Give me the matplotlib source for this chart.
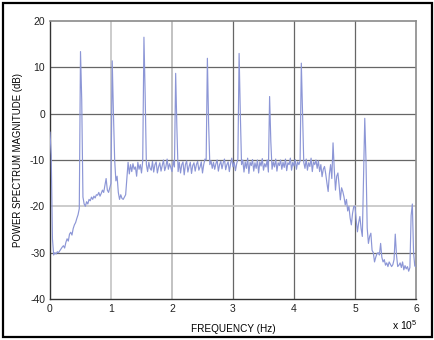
import numpy as np
import matplotlib
matplotlib.use('Agg')
import matplotlib.pyplot as plt
from matplotlib.patches import Rectangle

plt.rcParams['font.family'] = ['Liberation Sans', 'DejaVu Sans']
plt.rcParams['mathtext.default'] = 'regular'

# spectrum bins, 2 kHz apart, 0 .. 600 kHz
freq_hz = np.arange(301) * 2000.0
mag_db = [
    -4, -9, -27, -30.5, -30, -30.3, -29.8, -30, -29.6, -29.2,
    -28.8, -28.5, -29, -27.8, -27, -27.5, -26, -25.6, -26.2, -24.8,
    -24, -23.5, -22.6, -21.8, -20.5, 13.4, 3, -18, -19.5, -20,
    -19, -19.5, -18.5, -18.8, -18, -18.5, -17.8, -18.2, -17.5, -17.6,
    -17, -17.8, -17.2, -16.5, -17, -15.5, -14, -16.5, -17, -16,
    -15, 11.4, 0, -10, -14.5, -13.5, -17, -18.5, -17.5, -18.3,
    -18.5, -18, -17.5, -14, -10.5, -13, -11, -12.5, -10.8, -12,
    -11.5, -13.5, -10.5, -12, -11, -12.8, -10.2, 16.5, 4, -11,
    -12.5, -10.5, -11.8, -12.2, -10.3, -12.6, -11, -10.4, -12.8, -11.5,
    -10.6, -12.4, -11.2, -10, -12.3, -11.4, -9.8, -12, -10.8, -11.6,
    -12.5, -10.2, -11.5, 8.7, -3, -12.5, -10.5, -12.8, -11, -10.4,
    -13.2, -11, -10.2, -12.6, -11.4, -10.5, -12.9, -11.2, -10.6, -12.4,
    -11, -10.3, -12.2, -11.5, -10.4, -12.8, -11, -9.8, -10, 11.95,
    -2, -11, -10.2, -11.8, -10.5, -12, -10.8, -10, -12.4, -11,
    -10.3, -11.9, -10.6, -9.8, -12.1, -11, -10.4, -12.5, -10.8, -9.6,
    -11.5, -10.5, -12.3, -10.8, -9.8, 13.0, 0, -11, -10, -12.6,
    -10.4, -11.8, -9.6, -12.9, -10.5, -11.2, -9.9, -12.4, -10.6, -11.8,
    -10, -12.8, -10.4, -11.3, -9.7, -12.2, -10.8, -11.5, -10, -12.6,
    3.7, -6, -12, -10.4, -11.5, -9.8, -12.4, -10.6, -11.2, -10,
    -12, -10.5, -11.6, -9.8, -12.3, -10.6, -11, -9.6, -12.2, -10.5,
    -11.3, -9.9, -12, -10.4, -11, -10.2, 10.9, 0, -10.5, -11.8,
    -9.8, -12.2, -10.6, -11.4, -9.6, -12.5, -10.4, -11, -10, -11.8,
    -10.2, -12.5, -11, -13.6, -12, -11.4, -13, -15, -16.8, -13,
    -11, -14, -6.3, -12, -16.5, -13.5, -12.8, -15.5, -18.6, -16,
    -16.8, -18, -19.7, -18.5, -21, -20, -22.5, -24, -21.5, -20,
    -20, -23, -25.5, -23.5, -22.2, -24.8, -26.5, -14, -1.0, -10,
    -24.7, -28, -26.5, -25.8, -29.5, -30, -32, -31, -30.2, -30,
    -30.5, -28, -31, -32, -31.5, -32.7, -32.2, -33, -32, -32.5,
    -33, -32.6, -31.5, -26, -30.5, -33, -32.7, -32.2, -33.2, -32,
    -33.7, -32.8, -33.5, -33, -34, -33.2, -22, -19.5, -30, -32.9,
    -33,
]

x_ticks = [0, 1, 2, 3, 4, 5, 6]
y_ticks = [-40, -30, -20, -10, 0, 10, 20]

fig = plt.figure(figsize=(4.35, 3.4), dpi=100)
fig.patches.append(Rectangle((3 / 435, 3 / 340), 429 / 435, 334 / 340,
                             transform=fig.transFigure, fill=False,
                             edgecolor='black', linewidth=1.6))

ax = fig.add_axes([50 / 435, 41 / 340, 366 / 435, 278 / 340])

# grid lines as they look in the original (some lighter than others)
light = '#c4c4c4'
dark = '#666666'
vcol = {1: light, 2: '#b8b8b8', 3: dark, 4: dark, 5: dark}
hcol = {10: dark, 0: dark, -10: dark, -20: light, -30: dark}
for t, c in vcol.items():
    ax.axvline(t, color=c, linewidth=0.9 if c == dark else 1.2, zorder=1)
for t, c in hcol.items():
    ax.axhline(t, color=c, linewidth=0.9 if c == dark else 1.2, zorder=1)

ax.plot(np.array(freq_hz) / 1e5, mag_db, color='#8c96d6', linewidth=0.85, zorder=3)

ax.set_xlim(0, 6)
ax.set_ylim(-40, 20)
ax.set_xticks(x_ticks)
ax.set_yticks(y_ticks)
ax.set_xticklabels([str(t) for t in x_ticks])
ax.set_yticklabels([str(t) for t in y_ticks])
ax.tick_params(length=0, labelsize=7.5, pad=3.5, colors='#222222')

for s in ['left', 'bottom']:
    ax.spines[s].set_color('#333333')
    ax.spines[s].set_linewidth(1.0)
for s in ['top', 'right']:
    ax.spines[s].set_color('#8a8a8a')
    ax.spines[s].set_linewidth(1.2)

ax.set_xlabel('FREQUENCY (Hz)', fontsize=7.2, labelpad=7)
ax.set_ylabel('POWER SPECTRUM MAGNITUDE (dB)', fontsize=6.9, labelpad=5)
ax.text(1.005, -0.095, r'x 10$^5$', transform=ax.transAxes, ha='right',
        va='center', fontsize=7.5)

fig.savefig('out.png', dpi=100)
